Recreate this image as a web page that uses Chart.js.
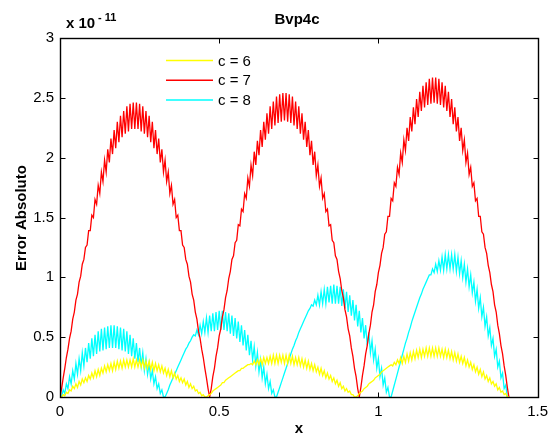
<!DOCTYPE html>
<html>
<head>
<meta charset="utf-8">
<script src="https://cdn.jsdelivr.net/npm/chart.js@4.4.1/dist/chart.umd.min.js"></script>
<style>
  html, body { margin: 0; padding: 0; background: #fff; }
  canvas { display: block; }
</style>
</head>
<body>
<canvas id="errChart" width="554" height="439"></canvas>
<script>
// samples on the 0.01 grid ...
const xGrid = [
  0.00, 0.01, 0.02, 0.03, 0.04, 0.05, 0.06, 0.07, 0.08, 0.09,
  0.10, 0.11, 0.12, 0.13, 0.14, 0.15, 0.16, 0.17, 0.18, 0.19,
  0.20, 0.21, 0.22, 0.23, 0.24, 0.25, 0.26, 0.27, 0.28, 0.29,
  0.30, 0.31, 0.32, 0.33, 0.34, 0.35, 0.36, 0.37, 0.38, 0.39,
  0.40, 0.41, 0.42, 0.43, 0.44, 0.45, 0.46, 0.47, 0.48, 0.49,
  0.50, 0.51, 0.52, 0.53, 0.54, 0.55, 0.56, 0.57, 0.58, 0.59,
  0.60, 0.61, 0.62, 0.63, 0.64, 0.65, 0.66, 0.67, 0.68, 0.69,
  0.70, 0.71, 0.72, 0.73, 0.74, 0.75, 0.76, 0.77, 0.78, 0.79,
  0.80, 0.81, 0.82, 0.83, 0.84, 0.85, 0.86, 0.87, 0.88, 0.89,
  0.90, 0.91, 0.92, 0.93, 0.94, 0.95, 0.96, 0.97, 0.98, 0.99,
  1.00, 1.01, 1.02, 1.03, 1.04, 1.05, 1.06, 1.07, 1.08, 1.09,
  1.10, 1.11, 1.12, 1.13, 1.14, 1.15, 1.16, 1.17, 1.18, 1.19,
  1.20, 1.21, 1.22, 1.23, 1.24, 1.25, 1.26, 1.27, 1.28, 1.29,
  1.30, 1.31, 1.32, 1.33, 1.34, 1.35, 1.36, 1.37, 1.38, 1.39,
  1.40, 1.41
];
// ... and halfway between them (the error wiggles between the two)
const xHalf = [
  0.005, 0.015, 0.025, 0.035, 0.045, 0.055, 0.065, 0.075, 0.085, 0.095,
  0.105, 0.115, 0.125, 0.135, 0.145, 0.155, 0.165, 0.175, 0.185, 0.195,
  0.205, 0.215, 0.225, 0.235, 0.245, 0.255, 0.265, 0.275, 0.285, 0.295,
  0.305, 0.315, 0.325, 0.335, 0.345, 0.355, 0.365, 0.375, 0.385, 0.395,
  0.405, 0.415, 0.425, 0.435, 0.445, 0.455, 0.465, 0.475, 0.485, 0.495,
  0.505, 0.515, 0.525, 0.535, 0.545, 0.555, 0.565, 0.575, 0.585, 0.595,
  0.605, 0.615, 0.625, 0.635, 0.645, 0.655, 0.665, 0.675, 0.685, 0.695,
  0.705, 0.715, 0.725, 0.735, 0.745, 0.755, 0.765, 0.775, 0.785, 0.795,
  0.805, 0.815, 0.825, 0.835, 0.845, 0.855, 0.865, 0.875, 0.885, 0.895,
  0.905, 0.915, 0.925, 0.935, 0.945, 0.955, 0.965, 0.975, 0.985, 0.995,
  1.005, 1.015, 1.025, 1.035, 1.045, 1.055, 1.065, 1.075, 1.085, 1.095,
  1.105, 1.115, 1.125, 1.135, 1.145, 1.155, 1.165, 1.175, 1.185, 1.195,
  1.205, 1.215, 1.225, 1.235, 1.245, 1.255, 1.265, 1.275, 1.285, 1.295,
  1.305, 1.315, 1.325, 1.335, 1.345, 1.355, 1.365, 1.375, 1.385, 1.395,
  1.405
];

// absolute error, in units of 1e-11
const errC6 = [
  0, 0.02, 0.04, 0.06, 0.09, 0.11, 0.13, 0.15, 0.16, 0.18, 0.20, 0.22, 0.23, 0.24, 0.26, 0.27,
  0.28, 0.29, 0.30, 0.30, 0.31, 0.31, 0.31, 0.32, 0.31, 0.31, 0.31, 0.30, 0.30, 0.29, 0.28, 0.27,
  0.26, 0.24, 0.23, 0.22, 0.20, 0.18, 0.16, 0.15, 0.13, 0.11, 0.09, 0.06, 0.04, 0.02, 0,
  0.02, 0.05, 0.07, 0.09, 0.12, 0.14, 0.16, 0.18, 0.20, 0.22, 0.24, 0.25, 0.27, 0.28, 0.30, 0.31,
  0.32, 0.33, 0.33, 0.34, 0.35, 0.35, 0.35, 0.35, 0.35, 0.35, 0.34, 0.33, 0.33, 0.32, 0.31, 0.30,
  0.28, 0.27, 0.25, 0.24, 0.22, 0.20, 0.18, 0.16, 0.14, 0.12, 0.09, 0.07, 0.05, 0.02, 0,
  0.03, 0.05, 0.08, 0.11, 0.13, 0.16, 0.18, 0.21, 0.23, 0.25, 0.27, 0.29, 0.31, 0.33, 0.34, 0.36,
  0.37, 0.38, 0.39, 0.40, 0.40, 0.41, 0.41, 0.41, 0.41, 0.41, 0.40, 0.40, 0.39, 0.38, 0.37, 0.36,
  0.34, 0.33, 0.31, 0.29, 0.27, 0.25, 0.23, 0.21, 0.18, 0.16, 0.13, 0.11, 0.08, 0.05, 0.03, 0
];
const errC6Half = [
  0.00, 0.01, 0.03, 0.05, 0.07, 0.08, 0.10, 0.12, 0.13, 0.15, 0.16, 0.17, 0.18, 0.20, 0.21, 0.22,
  0.22, 0.23, 0.24, 0.24, 0.25, 0.25, 0.25, 0.25, 0.25, 0.25, 0.24, 0.24, 0.23, 0.22, 0.22, 0.21,
  0.20, 0.18, 0.17, 0.16, 0.15, 0.13, 0.12, 0.10, 0.08, 0.07, 0.05, 0.03, 0.01, 0.00,
  0.01, 0.03, 0.06, 0.08, 0.10, 0.12, 0.15, 0.17, 0.19, 0.21, 0.22, 0.24, 0.26, 0.27, 0.27, 0.27,
  0.27, 0.27, 0.28, 0.28, 0.28, 0.28, 0.28, 0.29, 0.28, 0.28, 0.28, 0.27, 0.27, 0.26, 0.25, 0.24,
  0.23, 0.22, 0.21, 0.19, 0.18, 0.16, 0.15, 0.13, 0.11, 0.09, 0.07, 0.05, 0.04, 0.02, 0.00,
  0.01, 0.04, 0.07, 0.09, 0.12, 0.14, 0.17, 0.19, 0.22, 0.24, 0.26, 0.26, 0.27, 0.28, 0.28, 0.29,
  0.30, 0.31, 0.32, 0.33, 0.33, 0.34, 0.34, 0.34, 0.34, 0.34, 0.34, 0.33, 0.33, 0.32, 0.31, 0.30,
  0.29, 0.28, 0.26, 0.25, 0.23, 0.21, 0.19, 0.17, 0.15, 0.13, 0.11, 0.09, 0.06, 0.04, 0.02, 0.00
];

const errC7 = [
  0, 0.16, 0.33, 0.49, 0.65, 0.81, 0.96, 1.11, 1.25, 1.39, 1.52, 1.65, 1.77, 1.88, 1.98, 2.07,
  2.16, 2.23, 2.30, 2.35, 2.39, 2.43, 2.45, 2.46, 2.46, 2.45, 2.43, 2.39, 2.35, 2.30, 2.23, 2.16,
  2.07, 1.98, 1.88, 1.77, 1.65, 1.52, 1.39, 1.25, 1.11, 0.96, 0.81, 0.65, 0.49, 0.33, 0.16, 0,
  0.17, 0.34, 0.51, 0.67, 0.83, 0.99, 1.15, 1.29, 1.44, 1.57, 1.70, 1.83, 1.94, 2.05, 2.14, 2.23,
  2.30, 2.37, 2.43, 2.47, 2.51, 2.53, 2.54, 2.54, 2.53, 2.51, 2.47, 2.43, 2.37, 2.30, 2.23, 2.14,
  2.05, 1.94, 1.83, 1.70, 1.57, 1.44, 1.29, 1.15, 0.99, 0.83, 0.67, 0.51, 0.34, 0.17, 0,
  0.18, 0.36, 0.53, 0.71, 0.88, 1.04, 1.20, 1.36, 1.51, 1.66, 1.79, 1.92, 2.04, 2.15, 2.25, 2.34,
  2.42, 2.49, 2.55, 2.60, 2.63, 2.66, 2.67, 2.67, 2.66, 2.63, 2.60, 2.55, 2.49, 2.42, 2.34, 2.25,
  2.15, 2.04, 1.92, 1.79, 1.66, 1.51, 1.36, 1.20, 1.04, 0.88, 0.71, 0.53, 0.36, 0.18, 0
];
const errC7Half = [
  0.07, 0.24, 0.40, 0.55, 0.71, 0.86, 1.01, 1.15, 1.27, 1.39, 1.50, 1.61, 1.70, 1.80, 1.88, 1.96,
  2.03, 2.08, 2.13, 2.17, 2.20, 2.22, 2.24, 2.24, 2.24, 2.22, 2.20, 2.17, 2.13, 2.08, 2.03, 1.96,
  1.88, 1.80, 1.70, 1.61, 1.50, 1.39, 1.27, 1.15, 1.01, 0.86, 0.71, 0.55, 0.40, 0.24, 0.07,
  0.07, 0.24, 0.41, 0.57, 0.73, 0.89, 1.05, 1.18, 1.31, 1.43, 1.55, 1.66, 1.76, 1.85, 1.94, 2.02,
  2.09, 2.15, 2.20, 2.24, 2.27, 2.29, 2.30, 2.31, 2.30, 2.29, 2.27, 2.24, 2.20, 2.15, 2.09, 2.02,
  1.94, 1.85, 1.76, 1.66, 1.55, 1.43, 1.31, 1.18, 1.05, 0.89, 0.73, 0.57, 0.41, 0.24, 0.07,
  0.08, 0.26, 0.43, 0.60, 0.77, 0.94, 1.10, 1.25, 1.38, 1.51, 1.64, 1.76, 1.86, 1.96, 2.06, 2.14,
  2.22, 2.28, 2.34, 2.39, 2.42, 2.44, 2.45, 2.46, 2.45, 2.44, 2.42, 2.39, 2.34, 2.28, 2.22, 2.14,
  2.06, 1.96, 1.86, 1.76, 1.64, 1.51, 1.38, 1.25, 1.10, 0.94, 0.77, 0.60, 0.43, 0.26, 0.08
];

const errC8 = [
  0, 0.06, 0.11, 0.17, 0.22, 0.28, 0.32, 0.37, 0.41, 0.45, 0.49, 0.52, 0.55, 0.57, 0.58, 0.59,
  0.60, 0.60, 0.59, 0.58, 0.57, 0.55, 0.52, 0.49, 0.45, 0.41, 0.37, 0.32, 0.28, 0.22, 0.17, 0.11,
  0.06, 0,
  0.06, 0.13, 0.19, 0.25, 0.31, 0.37, 0.42, 0.47, 0.52, 0.56, 0.60, 0.63, 0.66, 0.68, 0.70, 0.71,
  0.72, 0.72, 0.71, 0.70, 0.68, 0.66, 0.63, 0.60, 0.56, 0.52, 0.47, 0.42, 0.37, 0.31, 0.25, 0.19,
  0.13, 0.06, 0,
  0.08, 0.16, 0.24, 0.32, 0.40, 0.47, 0.54, 0.60, 0.66, 0.72, 0.77, 0.81, 0.85, 0.88, 0.90, 0.92,
  0.93, 0.94, 0.93, 0.92, 0.90, 0.88, 0.85, 0.81, 0.77, 0.72, 0.66, 0.60, 0.54, 0.47, 0.40, 0.32,
  0.24, 0.16, 0.08, 0,
  0.10, 0.20, 0.30, 0.40, 0.49, 0.58, 0.67, 0.75, 0.83, 0.90, 0.96, 1.02, 1.07, 1.11, 1.14, 1.17,
  1.19, 1.19, 1.19, 1.19, 1.17, 1.14, 1.11, 1.07, 1.02, 0.96, 0.90, 0.83, 0.75, 0.67, 0.58, 0.49,
  0.40, 0.30, 0.20, 0.10, 0
];
const errC8Half = [
  0.00, 0.03, 0.07, 0.11, 0.15, 0.19, 0.22, 0.26, 0.29, 0.32, 0.34, 0.36, 0.38, 0.39, 0.40, 0.41,
  0.41, 0.41, 0.40, 0.39, 0.38, 0.36, 0.34, 0.32, 0.29, 0.26, 0.22, 0.19, 0.15, 0.11, 0.07, 0.03,
  0.00,
  0.03, 0.10, 0.16, 0.22, 0.28, 0.34, 0.40, 0.45, 0.50, 0.51, 0.52, 0.53, 0.54, 0.54, 0.55, 0.55,
  0.56, 0.56, 0.56, 0.55, 0.53, 0.51, 0.49, 0.46, 0.43, 0.39, 0.35, 0.31, 0.26, 0.21, 0.16, 0.11,
  0.07, 0.03, 0.00,
  0.04, 0.12, 0.20, 0.28, 0.36, 0.43, 0.50, 0.57, 0.63, 0.69, 0.74, 0.76, 0.77, 0.77, 0.78, 0.78,
  0.79, 0.78, 0.78, 0.78, 0.76, 0.74, 0.71, 0.68, 0.64, 0.59, 0.54, 0.49, 0.43, 0.37, 0.31, 0.24,
  0.17, 0.10, 0.04, 0.00,
  0.05, 0.15, 0.25, 0.35, 0.45, 0.54, 0.63, 0.71, 0.79, 0.86, 0.93, 0.99, 1.02, 1.04, 1.05, 1.06,
  1.06, 1.07, 1.07, 1.07, 1.05, 1.03, 1.00, 0.96, 0.92, 0.87, 0.80, 0.74, 0.67, 0.59, 0.51, 0.43,
  0.34, 0.25, 0.16, 0.07, 0.00
];

const seriesNames = ['c = 6', 'c = 7', 'c = 8'];
const seriesColors = ['#ffff00', '#ff0000', '#00ffff'];
const xTicks = [0, 0.5, 1, 1.5];
const yTicks = [0, 0.5, 1, 1.5, 2, 2.5, 3];

const FONT = '"Liberation Sans", Arial, Helvetica, sans-serif';

// put grid and half-step samples back in x order
function toPoints(onGrid, onHalf) {
  const pts = [];
  onGrid.forEach((y, i) => {
    pts.push({ x: xGrid[i], y: y });
    if (i < onHalf.length) pts.push({ x: xHalf[i], y: onHalf[i] });
  });
  return pts;
}

// box, inward ticks, labels and legend, matlab style
const matlabFrame = {
  id: 'matlabFrame',
  afterDraw(chart) {
    const ctx = chart.ctx;
    const area = chart.chartArea;
    const sx = chart.scales.x;
    const sy = chart.scales.y;
    const L = Math.round(area.left) + 0.5;
    const R = Math.round(area.right) + 0.5;
    const T = Math.round(area.top) + 0.5;
    const B = Math.round(area.bottom) + 0.5;

    ctx.save();
    ctx.strokeStyle = '#000';
    ctx.lineWidth = 1.4;
    ctx.strokeRect(L, T, R - L, B - T);

    ctx.lineWidth = 1;
    ctx.beginPath();
    xTicks.forEach(v => {
      const px = Math.round(sx.getPixelForValue(v)) + 0.5;
      ctx.moveTo(px, B); ctx.lineTo(px, B - 5);
      ctx.moveTo(px, T); ctx.lineTo(px, T + 5);
    });
    yTicks.forEach(v => {
      const py = Math.round(sy.getPixelForValue(v)) + 0.5;
      ctx.moveTo(L, py); ctx.lineTo(L + 5, py);
      ctx.moveTo(R, py); ctx.lineTo(R - 5, py);
    });
    ctx.stroke();

    ctx.fillStyle = '#000';
    ctx.textBaseline = 'alphabetic';

    // title
    ctx.font = 'bold 15px ' + FONT;
    ctx.textAlign = 'center';
    ctx.fillText('Bvp4c', 297, 24);

    // exponent
    ctx.textAlign = 'left';
    ctx.fillText('x 10', 66, 28);
    ctx.font = 'bold 11px ' + FONT;
    ctx.fillText('- 11', 98, 21);

    // axis titles
    ctx.font = 'bold 15px ' + FONT;
    ctx.textAlign = 'center';
    ctx.fillText('x', 299, 433);
    ctx.save();
    ctx.translate(26, 218);
    ctx.rotate(-Math.PI / 2);
    ctx.fillText('Error Absoluto', 0, 0);
    ctx.restore();

    // legend
    ctx.font = '15px ' + FONT;
    ctx.textAlign = 'left';
    ctx.textBaseline = 'middle';
    seriesNames.forEach((name, i) => {
      const y = 60.5 + i * 19.7;
      ctx.strokeStyle = seriesColors[i];
      ctx.lineWidth = 1.5;
      ctx.beginPath();
      ctx.moveTo(166, y);
      ctx.lineTo(213, y);
      ctx.stroke();
      ctx.fillStyle = '#000';
      ctx.fillText(name, 218, y + 1);
    });
    ctx.restore();
  }
};

const plainNumber = v => String(+Number(v).toFixed(1));

new Chart(document.getElementById('errChart'), {
  type: 'line',
  data: {
    datasets: [
      [errC6, errC6Half],
      [errC7, errC7Half],
      [errC8, errC8Half]
    ].map((pair, i) => ({
      label: seriesNames[i],
      data: toPoints(pair[0], pair[1]),
      borderColor: seriesColors[i],
      borderWidth: 1.3,
      pointRadius: 0,
      tension: 0,
      fill: false
    }))
  },
  options: {
    responsive: false,
    animation: false,
    devicePixelRatio: 1,
    layout: { padding: { left: 0, right: 14, top: 38, bottom: 0 } },
    plugins: {
      legend: { display: false },
      tooltip: { enabled: false }
    },
    scales: {
      x: {
        type: 'linear',
        min: 0,
        max: 1.5,
        grid: { display: false, drawTicks: false },
        border: { display: false },
        ticks: { stepSize: 0.5, color: '#000', padding: 6, font: { family: FONT, size: 15 }, callback: plainNumber },
        afterFit(scale) { scale.height = 42; }
      },
      y: {
        type: 'linear',
        min: 0,
        max: 3,
        grid: { display: false, drawTicks: false },
        border: { display: false },
        ticks: { stepSize: 0.5, color: '#000', padding: 6, font: { family: FONT, size: 15 }, callback: plainNumber },
        afterFit(scale) { scale.width = 60; }
      }
    }
  },
  plugins: [matlabFrame]
});
</script>
</body>
</html>
